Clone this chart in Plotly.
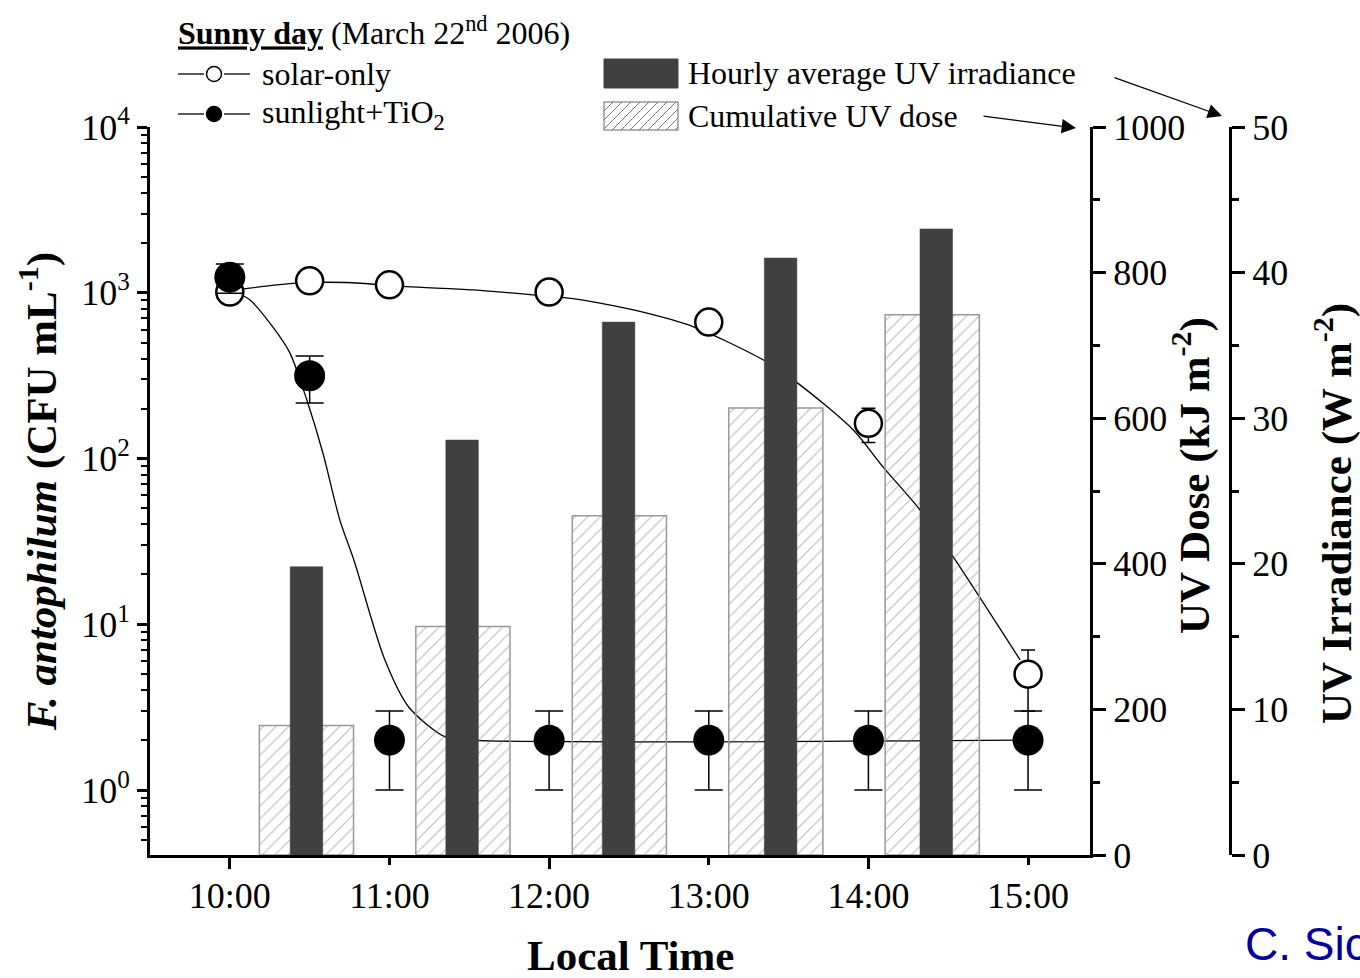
import plotly.graph_objects as go

# ---------------- data ----------------
times = [10.0, 10.5, 11.0, 12.0, 13.0, 14.0, 15.0]
solar_only = [1010, 1180, 1116, 1010, 665, 163, 5]
solar_err = [70, 65, 95, 90, 42, 38, 2]
tio2 = [1242, 316, 2, 2, 2, 2, 2]
tio2_err = [250, 100, 1, 1, 1, 1, 1]

solar_fit_t = [10.0, 10.418, 10.731, 11.107, 11.523, 11.898, 12.149, 12.318, 12.569,
               12.901, 13.340, 13.553, 13.904, 14.091, 14.323, 14.530, 14.950]
solar_fit_v = [1030, 1143, 1153, 1089, 1041, 972, 921, 865, 771,
               625, 394, 287, 149, 89, 49, 25.6, 6.1]

tio2_fit_t = [10.0, 10.125, 10.269, 10.376, 10.482, 10.583, 10.689, 10.777,
              10.971, 11.12, 11.35, 11.5, 15.0]
tio2_fit_v = [1050, 906, 622, 434, 226, 108, 42.6, 24.4, 6.1, 3.17, 2.09, 2.0, 2.0]

dose_times = [10.48, 11.46, 12.44, 13.42, 14.40]
uv_dose = [178, 314, 466, 614, 742]          # kJ m-2
irr_times = [10.48, 11.455, 12.435, 13.45, 14.425]
uv_irr = [19.8, 28.5, 36.6, 41.0, 43.0]       # W m-2

tick_hours = [10, 11, 12, 13, 14, 15]
tick_labels = ["10:00", "11:00", "12:00", "13:00", "14:00", "15:00"]
log_tickvals = [1, 10, 100, 1000, 10000]
log_ticktext = ["10<sup>0</sup>", "10<sup>1</sup>", "10<sup>2</sup>", "10<sup>3</sup>", "10<sup>4</sup>"]

# ---------------- geometry helpers (pixel -> paper) ----------------
W, H = 1360, 978
ML, MR, MT, MB = 150, 130, 127, 123
PW, PH = W - ML - MR, H - MT - MB


def px(x):
    return (x - ML) / PW


def py(y):
    return (H - MB - y) / PH


FONT = "Liberation Serif"
XR = [9.5, 15.388]
TITLE_SIZE = 43

fig = go.Figure()

# fitted curves
fig.add_trace(go.Scatter(x=solar_fit_t, y=solar_fit_v, mode="lines",
                         line=dict(color="black", width=1.3, shape="spline", smoothing=0.8),
                         hoverinfo="skip", showlegend=False))
fig.add_trace(go.Scatter(x=tio2_fit_t, y=tio2_fit_v, mode="lines",
                         line=dict(color="black", width=1.3, shape="spline", smoothing=0.8),
                         hoverinfo="skip", showlegend=False))

# data points
fig.add_trace(go.Scatter(x=times, y=solar_only, mode="markers", name="solar-only",
                         marker=dict(symbol="circle", size=27, color="white",
                                     line=dict(color="black", width=2.5)),
                         error_y=dict(type="data", array=solar_err, color="black",
                                      thickness=1.5, width=7),
                         showlegend=False))
fig.add_trace(go.Scatter(x=times, y=tio2, mode="markers", name="sunlight+TiO2",
                         marker=dict(symbol="circle", size=31, color="black"),
                         error_y=dict(type="data", array=tio2_err, color="black",
                                      thickness=1.5, width=14),
                         showlegend=False))

# cumulative dose bars (hatched)
fig.add_trace(go.Bar(x=dose_times, y=uv_dose, width=0.59, yaxis="y2",
                     name="Cumulative UV dose",
                     marker=dict(color="rgba(0,0,0,0)",
                                 line=dict(color="#999999", width=1.5),
                                 pattern=dict(shape="/", fgcolor="#7a7a7a", size=9,
                                              solidity=0.13, fillmode="overlay")),
                     showlegend=False))
# hourly irradiance bars (dark)
fig.add_trace(go.Bar(x=irr_times, y=uv_irr, width=0.204, xaxis="x2", yaxis="y3",
                     name="Hourly average UV irradiance",
                     marker=dict(color="#404040", line=dict(color="#404040", width=0.5)),
                     showlegend=False))

axis_common = dict(showgrid=False, zeroline=False, showline=True, linecolor="black",
                   linewidth=3, ticks="outside", tickcolor="black", tickwidth=2.5,
                   tickfont=dict(family=FONT, size=36, color="black"), automargin=False)

minor_log = [m * 10 ** d for d in range(-1, 4) for m in range(2, 10) if 0.4 < m * 10 ** d < 10000]

fig.update_layout(
    width=W, height=H,
    margin=dict(l=ML, r=MR, t=MT, b=MB),
    paper_bgcolor="white", plot_bgcolor="white",
    font=dict(family=FONT, color="black"),
    barmode="overlay",
    xaxis=dict(axis_common, domain=[0, (1090 - ML) / PW], range=XR,
               tickmode="array", tickvals=tick_hours, ticktext=tick_labels, ticklen=7),
    xaxis2=dict(overlaying="x", anchor="y", side="bottom", domain=[0, (1090 - ML) / PW],
                range=XR, showgrid=False, zeroline=False, showline=False,
                tickmode="array", tickvals=[10, 12, 14], ticks="outside", ticklen=13,
                tickwidth=2.5, tickcolor="black", showticklabels=False),
    yaxis=dict(axis_common, type="log", range=[-0.392, 4.0],
               tickmode="array", tickvals=log_tickvals, ticktext=log_ticktext, ticklen=10,
               minor=dict(tickmode="array", tickvals=minor_log, ticks="outside",
                          ticklen=6, tickwidth=2, tickcolor="black"),
               title=dict(text="<b><i>F. antophilum</i> (CFU mL<sup>-1</sup>)</b>",
                          font=dict(family=FONT, size=TITLE_SIZE), standoff=12)),
    yaxis2=dict(axis_common, overlaying="y", side="right", anchor="x", range=[0, 1000],
                tickmode="array", tickvals=[0, 200, 400, 600, 800, 1000], ticklen=13,
                minor=dict(tickmode="array", tickvals=[100, 300, 500, 700, 900],
                           ticks="outside", ticklen=7, tickwidth=2.5, tickcolor="black")),
    yaxis3=dict(axis_common, overlaying="y", side="right", anchor="free", position=1.0,
                range=[0, 50], tickmode="array", tickvals=[0, 10, 20, 30, 40, 50], ticklen=13,
                minor=dict(tickmode="array", tickvals=[5, 15, 25, 35, 45],
                           ticks="outside", ticklen=7, tickwidth=2.5, tickcolor="black")),
    showlegend=False,
)

annotations = []
shapes = []

# x axis title (placed slightly right of centre, as in the original)
annotations.append(dict(x=px(630), y=py(955), xref="paper", yref="paper",
                        text="<b>Local Time</b>", showarrow=False,
                        font=dict(family=FONT, size=TITLE_SIZE),
                        xanchor="center", yanchor="middle"))

# right axis titles
annotations.append(dict(x=px(1191), y=py(476), xref="paper", yref="paper",
                        text="<b>UV Dose (kJ m<sup>-2</sup>)</b>", textangle=-90,
                        showarrow=False, font=dict(family=FONT, size=TITLE_SIZE),
                        xanchor="center", yanchor="middle"))
annotations.append(dict(x=px(1333), y=py(514), xref="paper", yref="paper",
                        text="<b>UV Irradiance (W m<sup>-2</sup>)</b>", textangle=-90,
                        showarrow=False, font=dict(family=FONT, size=TITLE_SIZE),
                        xanchor="center", yanchor="middle"))

# legend title
annotations.append(dict(x=px(176), y=py(31), xref="paper", yref="paper",
                        text="<b><u>Sunny day</u></b> (March 22<sup>nd</sup> 2006)",
                        showarrow=False, font=dict(family=FONT, size=32),
                        xanchor="left", yanchor="middle"))

# line-symbol legend entries
for yy, fill, label in [(74, "white", "solar-only"), (114, "black", "sunlight+TiO<sub>2</sub>")]:
    shapes.append(dict(type="line", xref="paper", yref="paper",
                       x0=px(178), x1=px(204), y0=py(yy), y1=py(yy),
                       line=dict(color="black", width=1.3)))
    shapes.append(dict(type="line", xref="paper", yref="paper",
                       x0=px(224), x1=px(250), y0=py(yy), y1=py(yy),
                       line=dict(color="black", width=1.3)))
    shapes.append(dict(type="circle", xref="paper", yref="paper",
                       x0=px(206.5), x1=px(221.5), y0=py(yy + 7.5), y1=py(yy - 7.5),
                       fillcolor=fill, line=dict(color="black", width=1.5)))
    annotations.append(dict(x=px(260), y=py(yy), xref="paper", yref="paper", text=label,
                            showarrow=False, font=dict(family=FONT, size=32),
                            xanchor="left", yanchor="middle"))

# bar legend entries
shapes.append(dict(type="rect", xref="paper", yref="paper",
                   x0=px(604), x1=px(678), y0=py(88), y1=py(59),
                   fillcolor="#404040", line=dict(color="#404040", width=1)))
shapes.append(dict(type="rect", xref="paper", yref="paper",
                   x0=px(604), x1=px(678), y0=py(130), y1=py(102),
                   fillcolor="white", line=dict(color="#999999", width=1.5)))
# hatch lines in swatch, clipped to the rectangle
x_l, x_r, y_t, y_b = 604, 678, 102, 130
hh = y_b - y_t
segs = []
k = x_l - hh
while k < x_r:
    xa, ya, xb, yb = k, y_b, k + hh, y_t
    if xa < x_l:
        ya = y_b - (x_l - xa)
        xa = x_l
    if xb > x_r:
        yb = y_t + (xb - x_r)
        xb = x_r
    if xb > xa:
        segs.append(f"M{px(xa)},{py(ya)} L{px(xb)},{py(yb)}")
    k += 9
shapes.append(dict(type="path", xref="paper", yref="paper", path=" ".join(segs),
                   line=dict(color="#7a7a7a", width=1)))

annotations.append(dict(x=px(686), y=py(73), xref="paper", yref="paper",
                        text="Hourly average UV irradiance", showarrow=False,
                        font=dict(family=FONT, size=32), xanchor="left", yanchor="middle"))
annotations.append(dict(x=px(686), y=py(116), xref="paper", yref="paper",
                        text="Cumulative UV dose", showarrow=False,
                        font=dict(family=FONT, size=32), xanchor="left", yanchor="middle"))

# arrows
annotations.append(dict(x=px(1222), y=py(116), xref="paper", yref="paper", text="",
                        showarrow=True, ax=-109, ay=-39, arrowhead=2, arrowsize=2.2,
                        arrowwidth=1.3, arrowcolor="black"))
annotations.append(dict(x=px(1076), y=py(128), xref="paper", yref="paper", text="",
                        showarrow=True, ax=-94, ay=-12, arrowhead=2, arrowsize=2.2,
                        arrowwidth=1.3, arrowcolor="black"))

# watermark
annotations.append(dict(x=px(1243), y=py(944), xref="paper", yref="paper", text="C. Sich",
                        showarrow=False,
                        font=dict(family="Liberation Sans Narrow, Liberation Sans", size=46,
                                  color="#00009c"),
                        xanchor="left", yanchor="middle"))

fig.update_layout(annotations=annotations, shapes=shapes)

fig.write_html("out.html")
